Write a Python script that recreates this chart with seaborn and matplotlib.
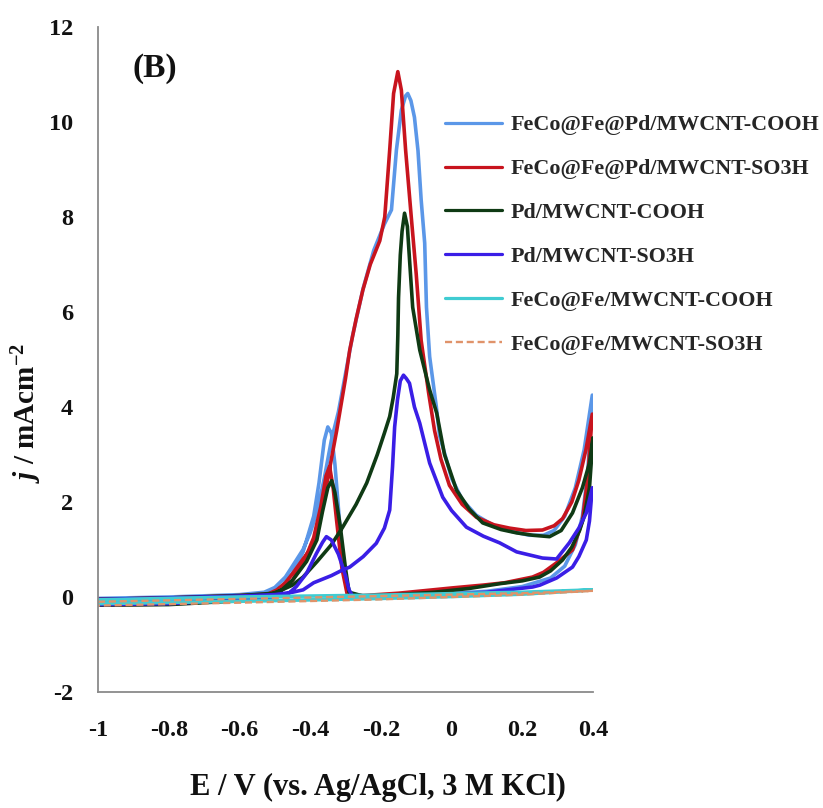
import numpy as np
import pandas as pd
import matplotlib
matplotlib.use("Agg")
import matplotlib.pyplot as plt
import seaborn as sns
from matplotlib.lines import Line2D

# ---------------- data ----------------
series_names = [
    "FeCo@Fe@Pd/MWCNT-COOH",
    "FeCo@Fe@Pd/MWCNT-SO3H",
    "Pd/MWCNT-COOH",
    "Pd/MWCNT-SO3H",
    "FeCo@Fe/MWCNT-COOH",
    "FeCo@Fe/MWCNT-SO3H",
]
series_colors = ["#5B97E8", "#C8141E", "#0F3A14", "#3A1EE6", "#40CCD2", "#E0936A"]

# FeCo@Fe@Pd/MWCNT-COOH (forward then backward scan)
fecofepd_cooh_E = [-1.0, -0.8, -0.6, -0.53, -0.5, -0.47, -0.45, -0.42, -0.40, -0.38, -0.36, -0.34,
                   -0.32, -0.30, -0.28, -0.25, -0.22, -0.19, -0.17, -0.156, -0.142, -0.13, -0.124,
                   -0.115, -0.105, -0.095, -0.086, -0.076, -0.071, -0.062, -0.043, -0.034, -0.015,
                   0.0, 0.03, 0.07, 0.12, 0.17, 0.22, 0.26, 0.29, 0.32, 0.35, 0.375, 0.398,
                   0.385, 0.37, 0.35, 0.32, 0.28, 0.2, 0.1, 0.0, -0.1, -0.2, -0.285, -0.30, -0.315,
                   -0.33, -0.34, -0.35, -0.36, -0.375, -0.39, -0.42, -0.45, -0.48, -0.52, -0.6,
                   -0.8, -1.0]
fecofepd_cooh_j = [-0.03, 0.0, 0.05, 0.1, 0.2, 0.42, 0.65, 1.0, 1.35, 1.8, 2.5, 3.3,
                   3.9, 4.7, 5.5, 6.5, 7.3, 7.85, 8.15, 9.41, 10.25, 10.55, 10.6,
                   10.45, 10.1, 9.4, 8.36, 7.45, 6.1, 5.06, 4.0, 3.4, 2.9,
                   2.5, 2.05, 1.72, 1.5, 1.38, 1.3, 1.3, 1.4, 1.7, 2.3, 3.1, 4.25,
                   2.6, 1.7, 1.1, 0.65, 0.4, 0.22, 0.12, 0.08, 0.04, 0.02, 0.03, 0.4, 1.4,
                   2.8, 3.45, 3.58, 3.3, 2.4, 1.7, 0.95, 0.5, 0.22, 0.06, -0.03,
                   -0.1, -0.12]

# FeCo@Fe@Pd/MWCNT-SO3H
fecofepd_so3h_E = [-1.0, -0.8, -0.6, -0.52, -0.494, -0.47, -0.449, -0.42, -0.40, -0.381, -0.36,
                   -0.345, -0.325, -0.30, -0.288, -0.27, -0.251, -0.23, -0.203, -0.189, -0.175,
                   -0.164, -0.152, -0.142, -0.13, -0.114, -0.10, -0.086, -0.065, -0.048, -0.03,
                   -0.006, 0.03, 0.07, 0.12, 0.164, 0.21, 0.257, 0.29, 0.314, 0.34, 0.36, 0.38,
                   0.398, 0.385, 0.37, 0.342, 0.297, 0.26, 0.229, 0.15, 0.088, 0.0, -0.054,
                   -0.15, -0.25, -0.295, -0.31, -0.325, -0.335, -0.345, -0.355, -0.37, -0.39,
                   -0.42, -0.45, -0.48, -0.52, -0.6, -0.8, -1.0]
fecofepd_so3h_j = [-0.05, -0.02, 0.03, 0.06, 0.15, 0.3, 0.5, 0.8, 1.0, 1.35, 2.1,
                   2.7, 3.5, 4.6, 5.2, 5.85, 6.46, 7.0, 7.5, 8.0, 9.41,
                   10.6, 11.06, 10.67, 9.41, 8.0, 6.8, 5.4, 4.3, 3.5, 2.9,
                   2.35, 1.95, 1.68, 1.52, 1.45, 1.4, 1.41, 1.5, 1.65, 2.0, 2.46, 3.1,
                   3.85, 2.5, 1.6, 0.99, 0.72, 0.52, 0.42, 0.3, 0.25, 0.19, 0.15,
                   0.08, 0.03, 0.05, 0.6, 1.6, 2.3, 2.75, 2.55, 1.9, 1.25,
                   0.7, 0.35, 0.15, 0.03, -0.05, -0.15, -0.17]

# Pd/MWCNT-COOH
pd_cooh_E = [-1.0, -0.8, -0.6, -0.5, -0.45, -0.42, -0.38, -0.34, -0.308, -0.27, -0.24, -0.21,
             -0.19, -0.175, -0.165, -0.155, -0.152, -0.15, -0.145, -0.14, -0.133, -0.125,
             -0.118, -0.11, -0.09, -0.062, -0.042, -0.02, 0.014, 0.05, 0.088, 0.14, 0.184,
             0.23, 0.277, 0.31, 0.342, 0.37, 0.39, 0.4,
             0.39, 0.375, 0.362, 0.34, 0.314, 0.28, 0.249, 0.2, 0.136, 0.05, -0.05, -0.15,
             -0.25, -0.29, -0.30, -0.315, -0.33, -0.339, -0.35, -0.365, -0.381, -0.41,
             -0.449, -0.48, -0.52, -0.6, -0.8, -1.0]
pd_cooh_j = [-0.05, -0.02, 0.03, 0.08, 0.25, 0.42, 0.75, 1.1, 1.47, 1.95, 2.4, 3.0,
             3.45, 3.8, 4.2, 4.7, 5.5, 6.3, 7.2, 7.7, 8.08, 7.8,
             7.0, 6.1, 5.2, 4.36, 3.87, 3.0, 2.25, 1.85, 1.56, 1.42, 1.35,
             1.3, 1.27, 1.4, 1.77, 2.3, 2.82, 3.35,
             2.3, 1.7, 1.4, 1.05, 0.78, 0.55, 0.42, 0.34, 0.28, 0.18, 0.1, 0.05,
             0.02, 0.1, 0.6, 1.5, 2.2, 2.45, 2.3, 1.8, 1.2, 0.75,
             0.36, 0.15, 0.03, -0.08, -0.16, -0.17]

# Pd/MWCNT-SO3H
pd_so3h_E = [-1.0, -0.8, -0.6, -0.5, -0.45, -0.42, -0.39, -0.34, -0.308, -0.288, -0.25, -0.213,
             -0.19, -0.175, -0.167, -0.161, -0.153, -0.145, -0.136, -0.128, -0.119, -0.105,
             -0.09, -0.062, -0.025, 0.0, 0.042, 0.09, 0.136, 0.184, 0.257, 0.297, 0.333,
             0.36, 0.381, 0.398,
             0.39, 0.381, 0.36, 0.342, 0.297, 0.25, 0.229, 0.1, 0.0, -0.1, -0.2, -0.28,
             -0.29, -0.30, -0.32, -0.34, -0.354, -0.365, -0.382, -0.41, -0.439, -0.46,
             -0.5, -0.6, -0.8, -1.0]
pd_so3h_j = [-0.05, -0.02, 0.02, 0.05, 0.1, 0.15, 0.3, 0.45, 0.57, 0.63, 0.85, 1.13,
             1.45, 1.83, 2.74, 3.58, 4.15, 4.55, 4.67, 4.6, 4.5, 4.0,
             3.66, 2.82, 2.1, 1.82, 1.47, 1.28, 1.14, 0.95, 0.82, 0.8, 1.14,
             1.45, 1.77, 2.3,
             1.6, 1.2, 0.85, 0.63, 0.4, 0.25, 0.21, 0.1, 0.06, 0.03, 0.0, 0.02,
             0.15, 0.45, 0.9, 1.2, 1.27, 1.15, 0.92, 0.5, 0.22, 0.08,
             0.0, -0.06, -0.14, -0.16]

# FeCo@Fe/MWCNT-COOH
fecofe_cooh_E = [-1.0, -0.6, -0.2, 0.0, 0.2, 0.4, 0.2, 0.0, -0.2, -0.6, -1.0]
fecofe_cooh_j = [-0.06, 0.0, 0.04, 0.07, 0.1, 0.15, 0.06, 0.01, -0.03, -0.09, -0.14]

# FeCo@Fe/MWCNT-SO3H
fecofe_so3h_E = [-1.0, -0.6, -0.2, 0.0, 0.2, 0.4, 0.2, 0.0, -0.2, -0.6, -1.0]
fecofe_so3h_j = [-0.1, -0.04, 0.02, 0.05, 0.08, 0.13, 0.05, 0.0, -0.05, -0.12, -0.18]

x_ticks = [-1.0, -0.8, -0.6, -0.4, -0.2, 0.0, 0.2, 0.4]
x_tick_labels = ["-1", "-0.8", "-0.6", "-0.4", "-0.2", "0", "0.2", "0.4"]
y_ticks = [-2, 0, 2, 4, 6, 8, 10, 12]
y_tick_labels = ["-2", "0", "2", "4", "6", "8", "10", "12"]

# ---------------- styling ----------------
sns.set_theme(style="white")
plt.rcParams["font.family"] = ["Liberation Serif", "DejaVu Serif"]
plt.rcParams["font.weight"] = "bold"
plt.rcParams["axes.unicode_minus"] = False
plt.rcParams["mathtext.fontset"] = "custom"
plt.rcParams["mathtext.rm"] = "Liberation Serif:bold"
plt.rcParams["mathtext.it"] = "Liberation Serif:italic:bold"
plt.rcParams["mathtext.bf"] = "Liberation Serif:bold"

fig = plt.figure(figsize=(8.23, 8.08), dpi=100)
ax = fig.add_axes([98 / 823, 116 / 808, 495 / 823, 665 / 808])

all_E = [fecofepd_cooh_E, fecofepd_so3h_E, pd_cooh_E, pd_so3h_E, fecofe_cooh_E, fecofe_so3h_E]
all_j = [fecofepd_cooh_j, fecofepd_so3h_j, pd_cooh_j, pd_so3h_j, fecofe_cooh_j, fecofe_so3h_j]

handles = []
for name, color, E, j in zip(series_names, series_colors, all_E, all_j):
    df = pd.DataFrame({"E": E, "j": j})
    dashed = name.endswith("Fe/MWCNT-SO3H")
    lw = 1.7 if dashed else 2.6
    ls = (0, (3, 1.6)) if dashed else "-"
    sns.lineplot(data=df, x="E", y="j", sort=False, estimator=None, ax=ax,
                 color=color, linewidth=lw, linestyle=ls, legend=False)
    handles.append(Line2D([], [], color=color, linewidth=lw if dashed else 2.3, linestyle=ls))

ax.set_xlim(-1.0, 0.4)
ax.set_ylim(-2, 12)
ax.set_xticks(x_ticks)
ax.set_xticklabels(x_tick_labels)
ax.set_yticks(y_ticks)
ax.set_yticklabels(y_tick_labels)
for s in ["top", "right"]:
    ax.spines[s].set_visible(False)
for s in ["left", "bottom"]:
    ax.spines[s].set_color("#8a8a8a")
    ax.spines[s].set_linewidth(1.3)
ax.tick_params(axis="both", which="major", direction="out", length=7, width=1.3,
               color="#8a8a8a", labelsize=17.5, labelcolor="#111111")
ax.tick_params(axis="x", pad=13)
ax.tick_params(axis="y", pad=11)
for lab in ax.get_xticklabels() + ax.get_yticklabels():
    lab.set_fontweight("bold")

ax.set_xlabel("E / V (vs. Ag/AgCl, 3 M KCl)", fontsize=22, fontweight="bold", color="#111111")
ax.xaxis.set_label_coords(0.565, -0.122)
ax.set_ylabel(r"$j$ / mAcm$^{-2}$", fontsize=21, fontweight="bold", color="#111111")
ax.yaxis.set_label_coords(-0.11, 0.42)

ax.text(133 / 823, 1 - 68 / 808, "(B)", transform=fig.transFigure, fontsize=24,
        fontweight="bold", va="center", ha="left", color="#111111")

ax.legend(handles, series_names, loc="upper left", bbox_to_anchor=(445 / 823, 1 - 115 / 808),
          bbox_transform=fig.transFigure, frameon=False, fontsize=15.8,
          handlelength=2.6, handletextpad=0.4, labelspacing=1.07, borderpad=0,
          borderaxespad=0)

fig.savefig("out.png", dpi=100)
